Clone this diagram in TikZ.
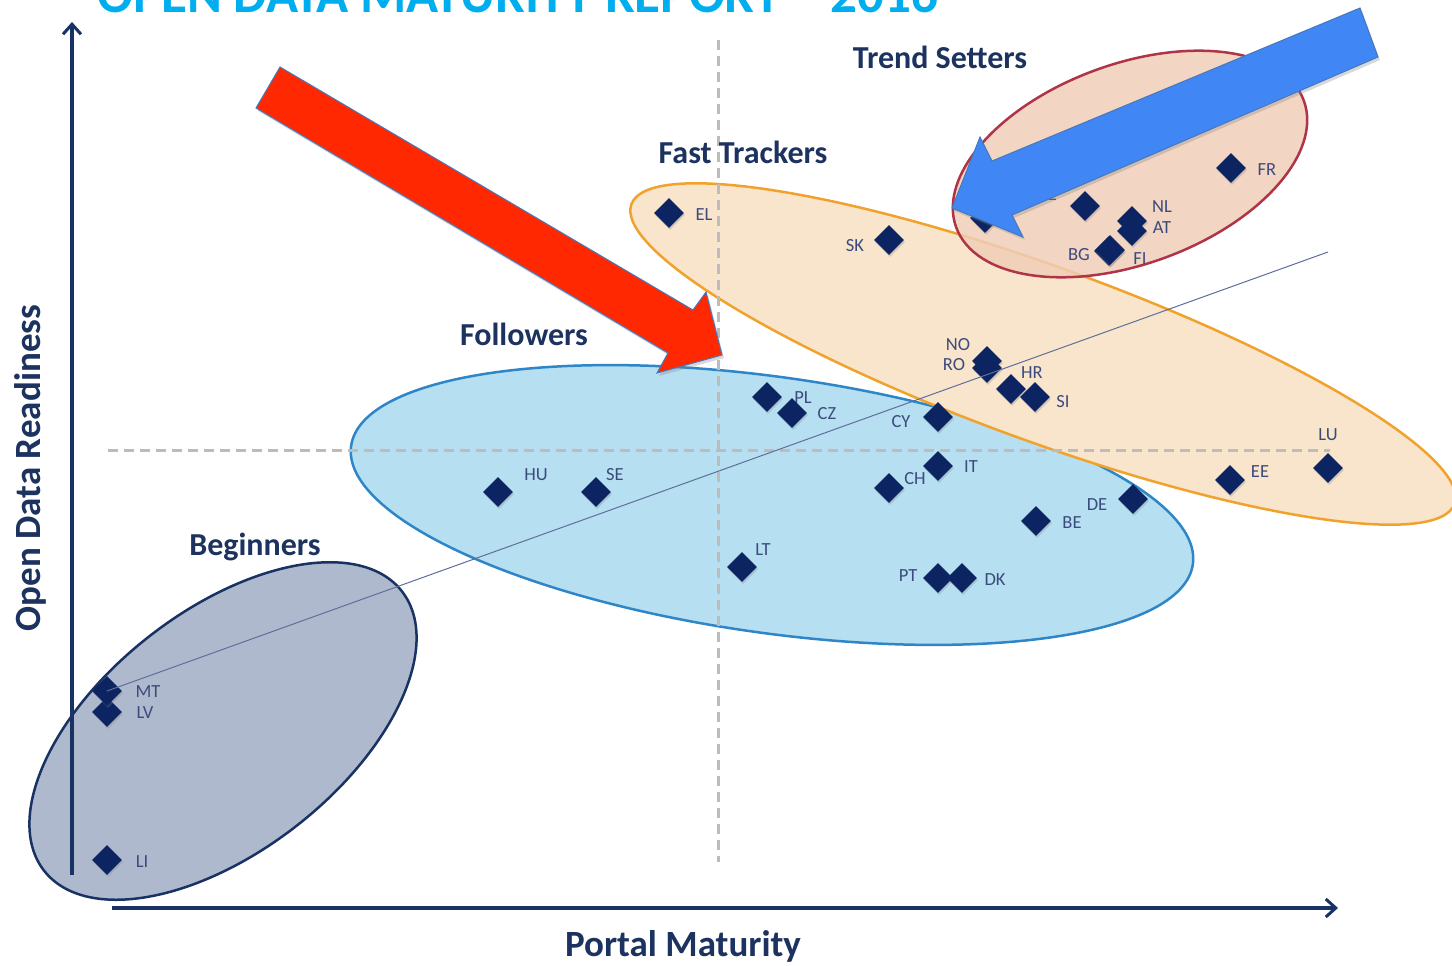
\documentclass[tikz,border=0pt]{standalone}
\usepackage{fontspec}
\setmainfont{Carlito}
\usetikzlibrary{shapes.geometric,arrows.meta,shadows}
\definecolor{folfill}{RGB}{182,223,241}
\definecolor{folline}{RGB}{46,134,200}
\definecolor{fastfill}{RGB}{249,229,204}
\definecolor{fastline}{RGB}{240,162,45}
\definecolor{trfill}{RGB}{240,206,184}
\definecolor{trline}{RGB}{176,52,72}
\definecolor{begfill}{RGB}{175,185,205}
\definecolor{begline}{RGB}{25,50,100}
\definecolor{axisnavy}{RGB}{25,50,100}
\definecolor{dashgray}{RGB}{188,188,188}
\definecolor{trendcol}{RGB}{95,110,155}
\definecolor{countrycol}{RGB}{60,75,125}
\definecolor{catcol}{RGB}{28,50,95}
\definecolor{dianavy}{RGB}{12,36,98}
\definecolor{titlecyan}{RGB}{0,174,239}
\definecolor{redarrow}{RGB}{255,40,0}
\definecolor{bluearrow}{RGB}{64,134,245}
\definecolor{arrowedge}{RGB}{70,120,190}
\begin{document}
\begin{tikzpicture}[x=1pt,y=-1pt,
  blob/.style={line width=2.5pt},
  dia/.style={diamond,fill=dianavy,inner sep=0pt,minimum size=30pt,
    drop shadow={shadow xshift=1pt,shadow yshift=-2pt,opacity=0.3}},
  clab/.style={text=countrycol,font=\fontsize{18.5}{20}\selectfont,inner sep=0pt},
  catlab/.style={text=catcol,font=\bfseries\fontsize{32}{36}\selectfont,inner sep=0pt},
  axlab/.style={text=catcol,font=\bfseries\fontsize{37}{40}\selectfont,inner sep=0pt},
  axisline/.style={draw=axisnavy,line width=3.5pt,-{Straight Barb[length=10pt,width=18pt,line width=3pt]}},
  quad/.style={draw=dashgray,line width=3pt,dash pattern=on 10pt off 6pt},
  bigarrow/.style={draw=arrowedge,line width=1pt,line join=miter,
    drop shadow={shadow xshift=2pt,shadow yshift=-3pt,opacity=0.3}}
]
\useasboundingbox (0,0) rectangle (1452,966);
\clip (0,0) rectangle (1452,966);
\fill[white] (0,0) rectangle (1452,966);

% groups
\path[blob,draw=folline,fill=folfill,rotate around={-8:(772,505)}]
  (772,505) ellipse [x radius=425, y radius=128];
\path[blob,draw=fastline,fill=fastfill,rotate around={-20:(1043,354)}]
  (1043,354) ellipse [x radius=438, y radius=87];
\path[blob,draw=trline,fill=trfill,fill opacity=0.85,rotate around={20:(1130,164)}]
  (1130,164) ellipse [x radius=185, y radius=100];
\path[blob,draw=begline,fill=begfill,rotate around={38:(223,731)}]
  (223,731) ellipse [x radius=227, y radius=120];

% quadrant lines
\coordinate (vt) at (718,40);
\coordinate (vb) at (718,862);
\coordinate (hl) at (108,450);
\coordinate (hr) at (1330,450);
\draw[quad] (vt) -- (vb);
\draw[quad] (hl) -- (hr);

% axes
\coordinate (yb) at (72,875);
\coordinate (yt) at (72,22);
\coordinate (xl) at (112,908);
\coordinate (xr) at (1338,908);
\draw[axisline] (yb) -- (yt);
\draw[axisline] (xl) -- (xr);

% countries
\node[dia] (d-x1) at (985,218) {};
\foreach \n/\dx/\dy/\lx/\ly in {
  EL/669/213/704/215, SK/889/240/855/246, FR/1231/168/1267/170,
  IE/1085/206/1050/195, NL/1132/221/1162/207, AT/1132/231/1162/228,
  BG/1109/251/1079/255, FI/1110/250/1140/259,
  NO/987/361/958/345, RO/987/368/954/365, HR/1011/389/1032/373,
  SI/1035/397/1063/402, CY/938/417/901/422, PL/767/397/803/398,
  CZ/792/413/827/414, IT/938/466/971/467, CH/889/488/915/479,
  DE/1133/499/1097/505, BE/1036/521/1072/523, PT/938/578/908/576,
  DK/962/578/995/580, EE/1230/480/1260/472, LU/1328/468/1328/435,
  HU/498/492/536/475, SE/596/492/615/475, LT/742/567/763/550,
  LV/107/712/145/713, MT/107/691/148/692, LI/107/860/142/862}{
  \node[dia] (d-\n) at (\dx,\dy) {};
  \node[clab] (l-\n) at (\lx,\ly) {\n};
}

% trend line
\coordinate (tend) at (1328,252);
\draw[trendcol,line width=1pt] (d-MT.center) -- (tend);

% category labels
\node[catlab] (cat-ts) at (940,57) {Trend Setters};
\node[catlab] (cat-ft) at (743,152) {Fast Trackers};
\node[catlab] (cat-fo) at (524,334) {Followers};
\node[catlab] (cat-be) at (255,547) {Beginners};

% axis labels
\node[axlab,rotate=90] (ylab) at (30,468) {Open Data Readiness};
\node[axlab] (xlab) at (683,946) {Portal Maturity};

% highlight arrows
\path[bigarrow,fill=redarrow] (280,67) -- (693,310) -- (706,292) -- (722,355)
  -- (657,373) -- (668,353) -- (256,108) -- cycle;
\path[bigarrow,fill=bluearrow] (1360,8) -- (1378,57) -- (1012,215) -- (1023,237)
  -- (952,208) -- (980,137) -- (992,161) -- cycle;

% title (cut off at the top edge, as in the reference)
\node[anchor=base west,text=titlecyan,font=\bfseries\fontsize{53}{60}\selectfont,inner sep=0pt]
  (title) at (97,13) {OPEN DATA MATURITY REPORT – 2016};
\end{tikzpicture}
\end{document}
